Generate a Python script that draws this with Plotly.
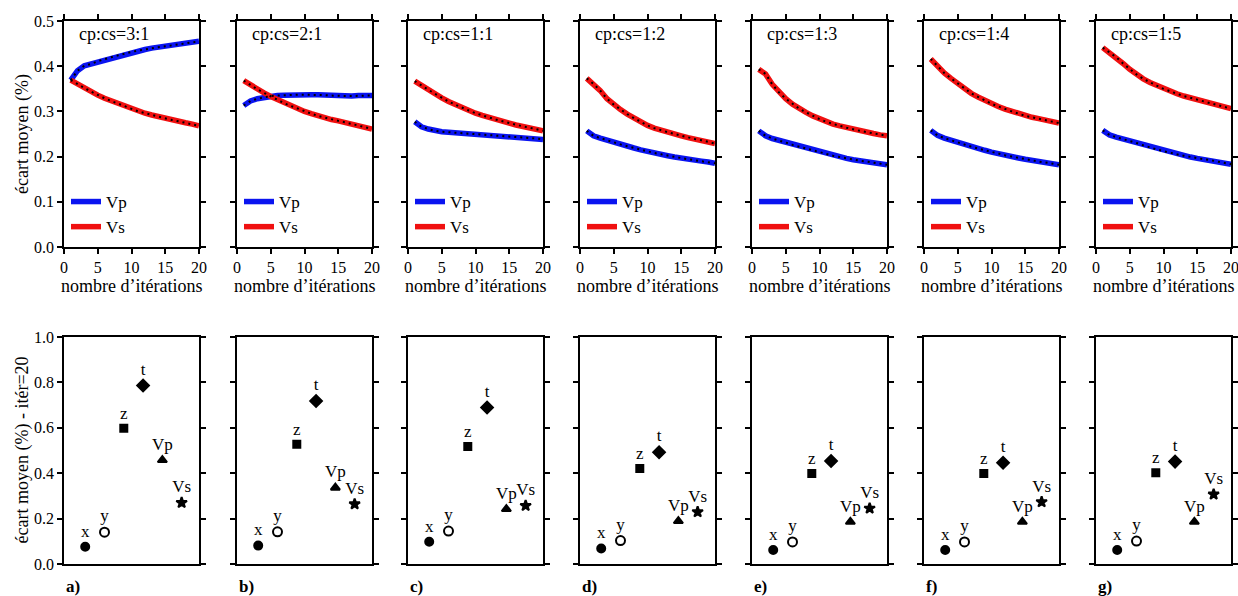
import plotly.graph_objects as go

# ---- data -------------------------------------------------------------
ratios = ["cp:cs=3:1", "cp:cs=2:1", "cp:cs=1:1", "cp:cs=1:2",
          "cp:cs=1:3", "cp:cs=1:4", "cp:cs=1:5"]
panel_tags = ["a)", "b)", "c)", "d)", "e)", "f)", "g)"]
iterations = list(range(1, 21))

vp_a = [0.369, 0.390, 0.401, 0.405, 0.411, 0.416, 0.420, 0.424, 0.428, 0.432,
        0.435, 0.437, 0.440, 0.442, 0.444, 0.446, 0.448, 0.450, 0.452, 0.455]
vs_a = [0.369, 0.360, 0.352, 0.344, 0.336, 0.329, 0.323, 0.317, 0.311, 0.305,
        0.300, 0.296, 0.292, 0.288, 0.285, 0.281, 0.278, 0.275, 0.272, 0.268]
vp_b = [0.313, 0.323, 0.328, 0.331, 0.334, 0.335, 0.336, 0.337, 0.337, 0.337,
        0.337, 0.337, 0.336, 0.335, 0.334, 0.334, 0.334, 0.335, 0.335, 0.335]
vs_b = [0.368, 0.358, 0.349, 0.341, 0.333, 0.326, 0.318, 0.312, 0.306, 0.300,
        0.295, 0.290, 0.286, 0.282, 0.279, 0.276, 0.272, 0.269, 0.265, 0.261]
vp_c = [0.277, 0.266, 0.261, 0.257, 0.255, 0.254, 0.253, 0.252, 0.251, 0.250,
        0.249, 0.247, 0.246, 0.245, 0.244, 0.243, 0.242, 0.241, 0.240, 0.238]
vs_c = [0.367, 0.357, 0.348, 0.339, 0.330, 0.322, 0.315, 0.308, 0.302, 0.296,
        0.291, 0.286, 0.282, 0.278, 0.274, 0.270, 0.267, 0.264, 0.261, 0.257]
vp_d = [0.257, 0.246, 0.241, 0.236, 0.232, 0.227, 0.223, 0.219, 0.215, 0.211,
        0.208, 0.205, 0.202, 0.199, 0.196, 0.194, 0.192, 0.190, 0.188, 0.185]
vs_d = [0.373, 0.361, 0.346, 0.328, 0.315, 0.304, 0.294, 0.285, 0.277, 0.269,
        0.263, 0.258, 0.254, 0.250, 0.246, 0.242, 0.239, 0.236, 0.233, 0.229]
vp_e = [0.257, 0.246, 0.240, 0.236, 0.231, 0.226, 0.222, 0.217, 0.213, 0.209,
        0.206, 0.202, 0.199, 0.196, 0.193, 0.191, 0.189, 0.187, 0.185, 0.182]
vs_e = [0.393, 0.383, 0.360, 0.342, 0.328, 0.316, 0.306, 0.298, 0.290, 0.283,
        0.277, 0.272, 0.268, 0.264, 0.260, 0.257, 0.254, 0.251, 0.248, 0.246]
vp_f = [0.258, 0.247, 0.241, 0.236, 0.231, 0.227, 0.222, 0.218, 0.214, 0.210,
        0.206, 0.203, 0.200, 0.197, 0.194, 0.192, 0.189, 0.187, 0.185, 0.182]
vs_f = [0.416, 0.400, 0.385, 0.373, 0.362, 0.350, 0.340, 0.332, 0.324, 0.317,
        0.311, 0.305, 0.300, 0.295, 0.290, 0.287, 0.284, 0.281, 0.278, 0.274]
vp_g = [0.258, 0.248, 0.243, 0.239, 0.234, 0.230, 0.225, 0.220, 0.216, 0.212,
        0.208, 0.205, 0.202, 0.199, 0.196, 0.194, 0.192, 0.189, 0.186, 0.183]
vs_g = [0.441, 0.430, 0.420, 0.406, 0.393, 0.382, 0.372, 0.364, 0.357, 0.350,
        0.344, 0.339, 0.334, 0.330, 0.326, 0.322, 0.318, 0.314, 0.310, 0.306]

vp_series = [vp_a, vp_b, vp_c, vp_d, vp_e, vp_f, vp_g]
vs_series = [vs_a, vs_b, vs_c, vs_d, vs_e, vs_f, vs_g]

# mean deviation at iteration 20 for each parameter
params = ["x", "y", "z", "t", "Vp", "Vs"]
param_pos = [1, 2, 3, 4, 5, 6]
final_a = [0.076, 0.140, 0.598, 0.786, 0.458, 0.270]
final_b = [0.081, 0.142, 0.527, 0.718, 0.336, 0.264]
final_c = [0.098, 0.145, 0.518, 0.689, 0.242, 0.257]
final_d = [0.068, 0.103, 0.421, 0.492, 0.189, 0.229]
final_e = [0.062, 0.097, 0.399, 0.454, 0.186, 0.245]
final_f = [0.062, 0.097, 0.399, 0.446, 0.186, 0.273]
final_g = [0.062, 0.101, 0.402, 0.451, 0.186, 0.307]
final_series = [final_a, final_b, final_c, final_d, final_e, final_f, final_g]

# ---- layout geometry (pixels) ----------------------------------------
W, H = 1238, 596
panel_left = [64, 237, 408, 580, 752, 924, 1096]
panel_w = 135
top_px = (21, 247)
bot_px = (337, 564)

FONT = "Liberation Serif"
BLUE = "#0a14f0"
RED = "#f01010"


def px_x(p):
    return p / W


def px_y(p):
    return 1 - p / H


symbols = ["circle", "circle-open", "square", "diamond", "triangle-up", "star"]
sizes = [8, 9, 7, 9, 8, 8]

fig = go.Figure()
layout = dict(
    template="none",
    width=W, height=H,
    margin=dict(l=0, r=0, t=0, b=0),
    paper_bgcolor="white", plot_bgcolor="white",
    font=dict(family=FONT, size=17, color="black"),
    showlegend=True,
)

axis_common = dict(
    showline=True, linecolor="black", linewidth=1.8, mirror="ticks",
    ticks="outside", ticklen=5, tickwidth=1.6, tickcolor="black",
    showgrid=False, zeroline=False, fixedrange=True,
    ticklabeloverflow="allow", automargin=False,
    tickfont=dict(family=FONT, size=16, color="black"),
)

annotations = []

for i in range(7):
    xd = [px_x(panel_left[i]), px_x(panel_left[i] + panel_w)]
    top_dom = [px_y(top_px[1]), px_y(top_px[0])]
    bot_dom = [px_y(bot_px[1]), px_y(bot_px[0])]
    ti = i + 1
    bi = i + 8
    leg = "legend" if i == 0 else f"legend{i + 1}"

    # top row: convergence curves
    layout[f"xaxis{ti}"] = dict(
        axis_common, domain=xd, anchor=f"y{ti}", range=[0, 20],
        tickvals=[0, 5, 10, 15, 20],
    )
    layout[f"yaxis{ti}"] = dict(
        axis_common, domain=top_dom, anchor=f"x{ti}", range=[0, 0.5],
        tickvals=[0, 0.1, 0.2, 0.3, 0.4, 0.5],
        ticktext=["0.0", "0.1", "0.2", "0.3", "0.4", "0.5"],
        showticklabels=(i == 0),
    )

    for name, ys, col in (("Vp", vp_series[i], BLUE), ("Vs", vs_series[i], RED)):
        fig.add_trace(go.Scatter(
            x=iterations, y=ys, mode="lines", name=name,
            line=dict(color=col, width=5.5),
            xaxis=f"x{ti}", yaxis=f"y{ti}", legend=leg, showlegend=True,
        ))
    for ys in (vp_series[i], vs_series[i]):
        fig.add_trace(go.Scatter(
            x=iterations, y=ys, mode="lines",
            line=dict(color="black", width=2, dash="2px,4px"),
            xaxis=f"x{ti}", yaxis=f"y{ti}", legend=leg, showlegend=False,
            hoverinfo="skip",
        ))

    layout[leg] = dict(
        x=px_x(panel_left[i] + 2), y=px_y(184), xanchor="left", yanchor="top",
        bgcolor="rgba(0,0,0,0)", borderwidth=0, itemwidth=30,
        font=dict(family=FONT, size=17, color="black"), tracegroupgap=0,
        itemclick=False, itemdoubleclick=False,
    )

    annotations.append(dict(
        text=ratios[i], x=px_x(panel_left[i] + 13), y=px_y(34),
        xref="paper", yref="paper", xanchor="left", yanchor="middle",
        showarrow=False, font=dict(family=FONT, size=18, color="black"),
    ))
    annotations.append(dict(
        text="nombre d’itérations", x=px_x(panel_left[i] + panel_w / 2),
        y=px_y(286), xref="paper", yref="paper",
        xanchor="center", yanchor="middle", showarrow=False,
        font=dict(family=FONT, size=18, color="black"),
    ))

    # bottom row: deviation per parameter after 20 iterations
    layout[f"xaxis{bi}"] = dict(
        axis_common, domain=xd, anchor=f"y{bi}", range=[-0.1, 6.9],
        ticks="", showticklabels=False,
    )
    layout[f"yaxis{bi}"] = dict(
        axis_common, domain=bot_dom, anchor=f"x{bi}", range=[0, 1.0],
        tickvals=[0, 0.2, 0.4, 0.6, 0.8, 1.0],
        ticktext=["0.0", "0.2", "0.4", "0.6", "0.8", "1.0"],
        showticklabels=(i == 0),
    )
    fig.add_trace(go.Scatter(
        x=param_pos, y=final_series[i], mode="markers+text",
        text=params, textposition="top center",
        textfont=dict(family=FONT, size=17, color="black"),
        marker=dict(symbol=symbols, size=sizes, color="black", opacity=1,
                    line=dict(color="black", width=2)),
        xaxis=f"x{bi}", yaxis=f"y{bi}", showlegend=False,
    ))

    annotations.append(dict(
        text=f"<b>{panel_tags[i]}</b>", x=px_x(panel_left[i]), y=px_y(586),
        xref="paper", yref="paper", xanchor="left", yanchor="middle",
        showarrow=False, font=dict(family=FONT, size=17, color="black"),
    ))

# shared y-axis titles of the first column
annotations.append(dict(
    text="écart moyen (%)", x=px_x(22), y=px_y((top_px[0] + top_px[1]) / 2),
    xref="paper", yref="paper", xanchor="center", yanchor="middle",
    textangle=-90, showarrow=False,
    font=dict(family=FONT, size=18, color="black"),
))
annotations.append(dict(
    text="écart moyen (%) - itér=20", x=px_x(22),
    y=px_y((bot_px[0] + bot_px[1]) / 2),
    xref="paper", yref="paper", xanchor="center", yanchor="middle",
    textangle=-90, showarrow=False,
    font=dict(family=FONT, size=18, color="black"),
))

layout["annotations"] = annotations
fig.update_layout(**layout)
fig.write_html("out.html")
